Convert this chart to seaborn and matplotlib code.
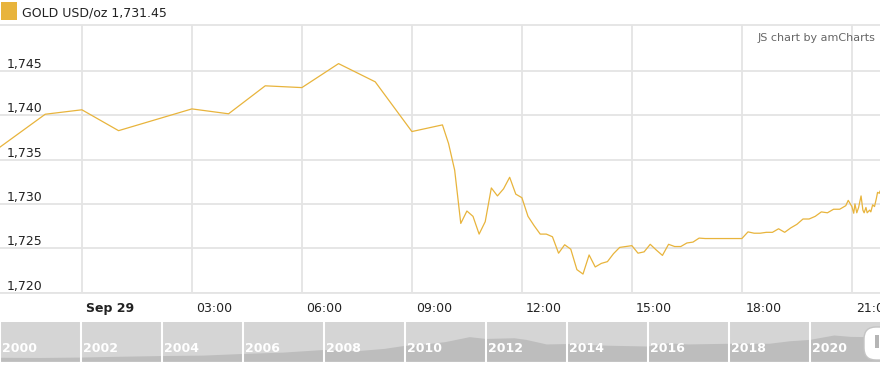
import matplotlib
matplotlib.use("Agg")
import matplotlib.pyplot as plt
import seaborn as sns
import pandas as pd
from matplotlib.transforms import ScaledTranslation
from matplotlib.patches import FancyBboxPatch, Rectangle

# ---------------- data ----------------
times = [
    "2021-09-28 21:00", "2021-09-28 23:00", "2021-09-29 00:00", "2021-09-29 01:00",
    "2021-09-29 03:00", "2021-09-29 04:00", "2021-09-29 05:00", "2021-09-29 06:00",
    "2021-09-29 07:00", "2021-09-29 08:00", "2021-09-29 09:00", "2021-09-29 09:50",
    "2021-09-29 10:00", "2021-09-29 10:10", "2021-09-29 10:20", "2021-09-29 10:30",
    "2021-09-29 10:40", "2021-09-29 10:50", "2021-09-29 11:00", "2021-09-29 11:10",
    "2021-09-29 11:20", "2021-09-29 11:30", "2021-09-29 11:40", "2021-09-29 11:50",
    "2021-09-29 12:00", "2021-09-29 12:10", "2021-09-29 12:20", "2021-09-29 12:30",
    "2021-09-29 12:40", "2021-09-29 12:50", "2021-09-29 13:00", "2021-09-29 13:10",
    "2021-09-29 13:20", "2021-09-29 13:30", "2021-09-29 13:40", "2021-09-29 13:50",
    "2021-09-29 14:00", "2021-09-29 14:10", "2021-09-29 14:20", "2021-09-29 14:30",
    "2021-09-29 14:40", "2021-09-29 14:50", "2021-09-29 15:00", "2021-09-29 15:10",
    "2021-09-29 15:20", "2021-09-29 15:30", "2021-09-29 15:40", "2021-09-29 15:50",
    "2021-09-29 16:00", "2021-09-29 16:10", "2021-09-29 16:20", "2021-09-29 16:30",
    "2021-09-29 16:40", "2021-09-29 16:50", "2021-09-29 17:00", "2021-09-29 18:00",
    "2021-09-29 18:10", "2021-09-29 18:20", "2021-09-29 18:30", "2021-09-29 18:40",
    "2021-09-29 18:50", "2021-09-29 19:00", "2021-09-29 19:10", "2021-09-29 19:20",
    "2021-09-29 19:30", "2021-09-29 19:40", "2021-09-29 19:50", "2021-09-29 20:00",
    "2021-09-29 20:10", "2021-09-29 20:20", "2021-09-29 20:30", "2021-09-29 20:40",
    "2021-09-29 20:50", "2021-09-29 20:54", "2021-09-29 21:00", "2021-09-29 21:03",
    "2021-09-29 21:05", "2021-09-29 21:08", "2021-09-29 21:11", "2021-09-29 21:15",
    "2021-09-29 21:18", "2021-09-29 21:20", "2021-09-29 21:23", "2021-09-29 21:25",
    "2021-09-29 21:29", "2021-09-29 21:31", "2021-09-29 21:34", "2021-09-29 21:37",
    "2021-09-29 21:40", "2021-09-29 21:42", "2021-09-29 21:45", "2021-09-29 21:46",
]
prices = [
    1734.1, 1740.1, 1740.6, 1738.25,
    1740.7, 1740.15, 1743.3, 1743.1,
    1745.8, 1743.75, 1738.15, 1738.9,
    1736.8, 1733.8, 1727.8, 1729.2,
    1728.6, 1726.6, 1728.0, 1731.8,
    1730.9, 1731.7, 1733.0, 1731.1,
    1730.7, 1728.6, 1727.55, 1726.6,
    1726.6, 1726.3, 1724.45, 1725.4,
    1724.9, 1722.6, 1722.1, 1724.25,
    1722.9, 1723.3, 1723.5, 1724.4,
    1725.1, 1725.2, 1725.3, 1724.45,
    1724.6, 1725.45, 1724.8, 1724.2,
    1725.45, 1725.2, 1725.2, 1725.6,
    1725.7, 1726.15, 1726.1, 1726.1,
    1726.85, 1726.7, 1726.7, 1726.8,
    1726.8, 1727.2, 1726.8, 1727.3,
    1727.7, 1728.3, 1728.3, 1728.6,
    1729.1, 1729.0, 1729.4, 1729.4,
    1729.8, 1730.4, 1729.7, 1728.95,
    1730.0, 1729.0, 1729.6, 1730.9,
    1729.3, 1729.0, 1729.6, 1729.0,
    1729.3, 1729.1, 1729.9, 1729.7,
    1730.6, 1731.3, 1731.2, 1731.45,
]
y_ticks = [1720, 1725, 1730, 1735, 1740, 1745]
x_tick_times = ["2021-09-29 00:00", "2021-09-29 03:00", "2021-09-29 06:00", "2021-09-29 09:00",
                "2021-09-29 12:00", "2021-09-29 15:00", "2021-09-29 18:00", "2021-09-29 21:00"]
x_tick_labels = ["Sep 29", "03:00", "06:00", "09:00", "12:00", "15:00", "18:00", "21:00"]

# long-term history shown in the scrollbar
hist_years = [2000, 2001, 2002, 2003, 2004, 2005, 2006, 2007, 2008, 2008.8, 2009.5, 2010,
              2010.5, 2011, 2011.6, 2012, 2012.7, 2013, 2013.5, 2014, 2015, 2016, 2016.5,
              2017, 2018, 2019, 2019.5, 2020, 2020.6, 2021, 2021.8]
hist_prices = [285, 270, 300, 360, 410, 440, 560, 660, 850, 760, 930, 1150,
               1250, 1420, 1780, 1650, 1700, 1580, 1250, 1280, 1160, 1100, 1330,
               1250, 1300, 1300, 1480, 1580, 1900, 1800, 1760]
scroll_years = [2000, 2002, 2004, 2006, 2008, 2010, 2012, 2014, 2016, 2018, 2020]

# ---------------- style ----------------
GOLD = "#e8b43c"
GRID = "#e4e4e4"
sns.set_theme(style="white")
plt.rcParams["font.family"] = ["DejaVu Sans"]

W, H = 880, 369
fig = plt.figure(figsize=(W / 100, H / 100), dpi=100)


def frame(x0, y0, x1, y1):
    return [x0 / W, 1 - y1 / H, (x1 - x0) / W, (y1 - y0) / H]


df = pd.DataFrame({"time": pd.to_datetime(times), "price": prices})

ax = fig.add_axes(frame(0, 25, 880, 292.7))
sns.lineplot(data=df, x="time", y="price", ax=ax, color=GOLD, linewidth=0.9)
ax.set_xlim(pd.Timestamp("2021-09-28 21:46"), pd.Timestamp("2021-09-29 21:46"))
ax.set_ylim(1720, 1750.15)
ax.set_xlabel("")
ax.set_ylabel("")

ax.set_yticks(y_ticks)
ax.set_yticklabels([f"{v:,}" for v in y_ticks])
ax.set_xticks(pd.to_datetime(x_tick_times))
ax.set_xticklabels(x_tick_labels)
ax.grid(True, color=GRID, linewidth=1.3)
ax.set_axisbelow(True)
for s in ["left", "right"]:
    ax.spines[s].set_visible(False)
for s in ["top", "bottom"]:
    ax.spines[s].set_color(GRID)
    ax.spines[s].set_linewidth(1.3)

ax.tick_params(axis="y", length=0, pad=-4.5, labelsize=9, labelcolor="#222222")
ax.tick_params(axis="x", length=0, pad=7, labelsize=9, labelcolor="#222222")
for lbl in ax.get_yticklabels():
    lbl.set_ha("left")
    lbl.set_va("bottom")
for lbl in ax.get_xticklabels():
    lbl.set_ha("left")
    lbl.set_transform(lbl.get_transform() + ScaledTranslation(4 / 100, 0, fig.dpi_scale_trans))
ax.get_xticklabels()[0].set_fontweight("bold")

# legend / header
fig.add_artist(Rectangle((1, H - 20), 16, 18, transform=None, facecolor=GOLD, edgecolor="none"))
fig.text(22 / W, 1 - 13 / H, f"GOLD USD/oz {prices[-1]:,.2f}", ha="left", va="center",
         fontsize=9, color="#222222")
fig.text(875 / W, 1 - 38 / H, "JS chart by amCharts", ha="right", va="center",
         fontsize=8, color="#666666")

# scrollbar
ax2 = fig.add_axes(frame(0, 321.7, 880, 361.7))
ax2.set_facecolor("#d5d5d5")
ax2.fill_between(hist_years, hist_prices, 0, color="#bdbdbd", linewidth=0, zorder=1)
ax2.set_axisbelow(False)
ax2.set_xlim(2000, 2000 + 880 / 40.5)
ax2.set_ylim(0, 2900)
ax2.set_yticks([])
ax2.set_xticks(scroll_years)
ax2.set_xticklabels([str(y) for y in scroll_years])
ax2.grid(True, axis="x", color="white", linewidth=1.5)
ax2.grid(False, axis="y")
for s in ax2.spines.values():
    s.set_visible(False)
ax2.tick_params(axis="x", length=0, direction="in", pad=-14, labelsize=9, labelcolor="white")
for lbl in ax2.get_xticklabels():
    lbl.set_ha("left")
    lbl.set_fontweight("bold")
    lbl.set_zorder(5)
    lbl.set_transform(lbl.get_transform() + ScaledTranslation(2 / 100, 0, fig.dpi_scale_trans))

# scrollbar grip
fig.add_artist(FancyBboxPatch((864, H - 360), 32, 33, boxstyle="round,pad=0,rounding_size=12",
                              transform=None, facecolor="white", edgecolor="#c4c4c4", linewidth=1))
fig.add_artist(Rectangle((875, H - 348), 4, 13, transform=None, facecolor="#b5b5b5", edgecolor="none"))

fig.savefig("out.png", dpi=100)
